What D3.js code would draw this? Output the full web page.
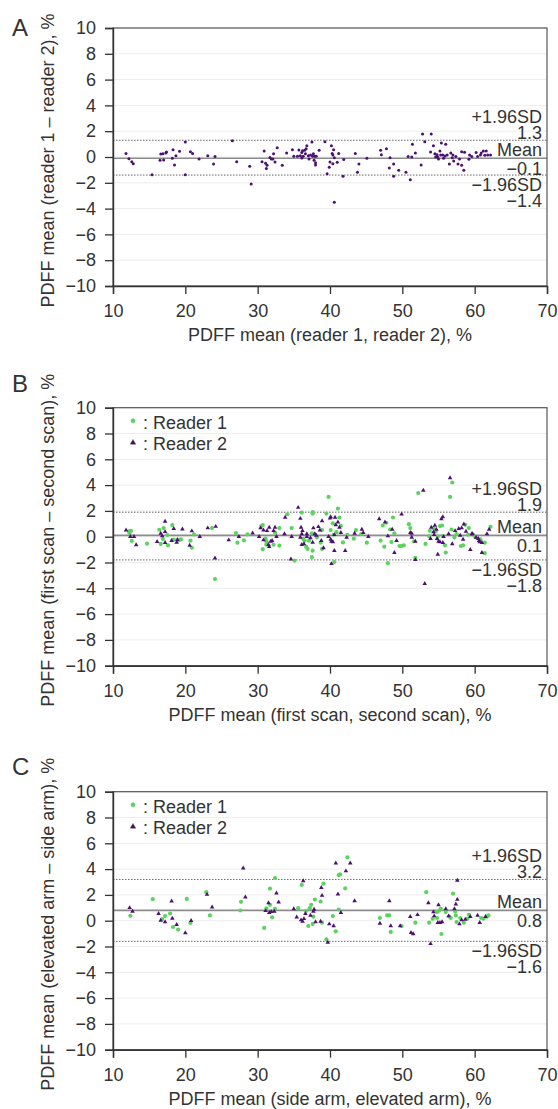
<!DOCTYPE html>
<html>
<head>
<meta charset="utf-8">
<script src="https://cdn.jsdelivr.net/npm/d3@7"></script>
<style>
  body { margin: 0; background: #fff; }
  text { font-family: "Liberation Sans", Arial, Helvetica, sans-serif; fill: #333; }
</style>
</head>
<body>
<div id="chart"></div>
<script>
// ticks
const xTicks = [10, 20, 30, 40, 50, 60, 70];
const yTicks = [-10, -8, -6, -4, -2, 0, 2, 4, 6, 8, 10];

// A: reader 1 vs reader 2 (mean, diff)
const dataA = [[11.8,0.28],[12.2,-0.13],[12.6,-0.36],[12.8,-0.52],[15.4,-1.37],[16.6,0.23],[16.5,-0.26],[17.0,-0.23],[16.9,0.26],[17.3,0.31],[17.4,0.39],[18.3,0.57],[18.2,-0.1],[18.5,-0.62],[18.7,0.1],[19.2,0.44],[20.0,1.16],[20.0,-1.37],[20.7,0.41],[21.0,0.28],[21.9,-0.15],[23.1,0.1],[23.9,-0.54],[24.1,0.03],[26.5,1.26],[27.1,-0.36],[28.9,-0.72],[29.1,-2.1],[30.6,-0.36],[30.9,0.46],[31.1,-0.49],[31.2,-0.9],[31.3,-0.64],[31.7,-0.03],[31.9,-0.15],[32.2,0.26],[32.1,-0.15],[32.4,-0.39],[32.7,0.72],[33.4,-0.64],[34.0,0.31],[34.8,0.57],[35.0,0.05],[35.5,0.05],[35.7,0.54],[35.9,0.1],[36.1,0.34],[36.2,0.49],[36.1,-0.08],[36.3,0.05],[36.5,0.52],[36.6,0.26],[36.7,0.64],[36.8,0.88],[37.0,0.1],[37.1,-0.15],[37.3,0.15],[37.5,1.16],[37.6,0.05],[37.7,0.26],[37.8,-0.26],[38.0,-0.44],[37.9,0.05],[38.1,0.05],[38.0,-0.62],[38.5,0.52],[39.3,1.19],[39.6,-1.3],[39.9,-0.8],[40.0,-0.39],[40.2,0.88],[40.3,0.28],[40.4,0.15],[40.5,0.57],[40.4,-0.52],[40.6,-0.05],[41.0,-0.41],[41.2,0.28],[40.6,-3.5],[41.8,-1.5],[41.9,-0.2],[43.5,0.28],[43.8,-1.19],[44.0,-0.54],[45.1,-0.1],[47.0,0.52],[47.1,0.18],[47.8,0.64],[48.3,-0.05],[48.2,-0.85],[48.8,-0.54],[48.8,-1.5],[49.5,-1.03],[50.5,-1.19],[51.1,-1.76],[50.8,0.03],[51.3,0],[51.8,0.31],[51.4,0.98],[52.6,-0.62],[52.8,1.78],[53.1,1.19],[54.0,1.78],[53.9,0.39],[54.3,0.88],[54.5,0.26],[54.6,0],[54.8,0.18],[54.9,0],[55.0,-0.15],[55.3,0.15],[55.4,1.08],[55.2,0.46],[55.6,0.15],[55.7,-0.1],[56.0,0.98],[55.9,0.08],[56.2,0.15],[56.5,-0.54],[56.7,0.31],[56.9,-0.05],[57.1,-0.31],[57.0,0.15],[57.4,0.03],[57.7,-0.54],[57.9,-0.15],[58.2,-0.64],[58.2,0.41],[58.5,-1.03],[58.6,0.36],[59.2,-0.18],[59.3,0.15],[59.6,0.03],[60.2,0.34],[60.4,0.03],[60.8,0.15],[60.9,0.31],[61.2,0.46],[61.4,0.13],[61.6,0.46],[61.8,0.15],[62.2,0.15]];

// B: first scan vs second scan
const dataB1 = [[12.2,0.41],[12.5,0.46],[12.3,0.28],[12.6,-0.33],[14.7,-0.54],[16.6,-0.56],[16.4,0.54],[17.0,0.67],[16.9,-0.18],[17.6,-0.67],[17.5,0.13],[18.2,0.9],[18.4,-0.23],[19.1,-0.28],[19.4,-0.21],[20.7,-0.31],[20.9,-0.85],[21.2,0.18],[23.7,0.67],[24.1,-3.28],[27.0,0.28],[27.2,-0.46],[28.1,-0.28],[28.6,0.18],[30.5,0.82],[30.7,0.9],[30.7,-0.97],[31.1,-0.15],[31.2,-0.36],[31.2,-0.62],[32.2,-0.62],[32.4,0.31],[33.0,0.67],[33.0,-0.69],[34.1,1.74],[35.1,-1.85],[34.7,0.67],[36.1,1.87],[36.3,-0.18],[36.7,-0.77],[36.9,-0.95],[36.5,-0.31],[37.6,1.9],[37.6,1.79],[37.5,0.26],[37.1,-0.31],[37.6,-1.08],[37.5,-1.59],[38.2,-0.05],[38.9,0.51],[38.7,-0.46],[38.9,-0.95],[39.5,1.79],[39.8,3.08],[40.1,0.51],[40.4,1.03],[40.5,0.15],[41.1,2.18],[41.3,1.49],[41.5,0.85],[40.9,0.36],[40.6,-1.97],[41.8,-0.44],[42.4,0.15],[43.3,-0.15],[43.6,0.51],[44.3,0.21],[45.1,-0.46],[47.0,-0.31],[47.3,0.87],[47.5,-0.77],[47.8,1.08],[48.0,-2.05],[48.3,0.56],[48.5,-0.41],[48.7,1.49],[48.9,0.26],[49.6,-0.72],[49.9,-0.72],[50.2,-0.67],[50.9,0.97],[51.1,0.67],[51.6,-0.36],[51.8,-1.64],[52.2,3.38],[53.2,-0.56],[53.7,0.05],[53.8,0.46],[54.3,0.67],[54.6,0.41],[54.9,0.0],[55.2,0.82],[55.5,0.87],[55.6,0.05],[55.9,-0.67],[56.0,-1.23],[56.9,4.2],[56.6,3.08],[56.8,0.56],[57.2,-0.05],[57.5,0.21],[58.1,-0.72],[58.4,-0.67],[58.7,0.92],[59.1,0.15],[59.2,0.67],[59.8,0.15],[60.1,-0.05],[60.8,-0.21],[61.4,-1.28],[61.4,-0.46],[62.2,0.77]];
const dataB2 = [[11.8,0.51],[12.4,0.0],[12.9,0.0],[13.2,-0.64],[16.1,-0.38],[16.6,0.26],[16.8,0.05],[17.2,1.18],[17.2,0.38],[17.2,-0.46],[18.4,0.62],[18.1,-0.31],[18.8,-0.44],[18.9,-0.23],[19.6,0.59],[20.6,-0.67],[20.9,0.44],[22.0,0.0],[23.1,0.67],[24.2,0.79],[24.1,-1.67],[26.0,-0.26],[27.4,0.0],[29.3,0.28],[30.4,0.67],[30.2,0.0],[30.8,0.51],[30.8,-0.26],[31.3,0.46],[31.6,0.72],[31.5,-0.62],[31.6,-0.77],[31.8,-0.36],[32.0,-0.31],[32.2,0.46],[32.4,0.72],[32.6,0.0],[33.7,0.21],[33.8,1.49],[34.6,-1.74],[34.7,0.0],[35.6,2.26],[35.9,1.41],[36.0,0.72],[36.1,0.21],[35.9,-0.05],[36.2,0.46],[36.4,-0.56],[36.1,-0.62],[36.8,0.0],[37.7,0.67],[36.8,0.21],[37.3,-0.1],[37.6,-0.44],[37.9,0.21],[38.1,0.1],[38.4,0.77],[38.6,0.51],[38.9,1.23],[38.8,-0.31],[39.1,-0.87],[40.0,1.44],[40.1,1.54],[40.7,1.49],[39.8,0.0],[40.1,-0.21],[40.2,-0.36],[40.4,-0.41],[40.6,0.15],[40.8,0.92],[41.1,1.13],[41.3,0.72],[41.5,0.31],[40.6,-1.08],[40.2,-2.1],[42.3,-0.05],[42.1,-1.08],[43.4,0.26],[44.4,0.56],[44.6,0.31],[45.3,0.0],[46.8,1.38],[47.6,1.13],[48.0,0.05],[48.6,0.56],[48.9,-1.23],[49.2,-0.31],[49.9,1.74],[51.1,0.31],[51.3,0.26],[51.8,-0.36],[51.3,-0.05],[51.8,-1.79],[52.9,3.59],[53.1,-3.64],[53.9,-0.15],[54.0,0.72],[54.3,0.36],[54.5,0.87],[54.7,0.56],[54.4,0.15],[54.8,-0.15],[55.0,-0.36],[55.2,-0.41],[54.9,-1.38],[55.4,1.38],[55.6,1.54],[55.6,-0.46],[55.7,0.0],[56.4,0.21],[56.6,4.56],[56.9,-0.56],[57.3,0.46],[57.8,0.62],[58.0,0.1],[58.2,0.67],[58.5,0.97],[58.8,0.41],[58.4,-0.21],[59.4,-1.0],[59.6,0.21],[59.7,0.21],[60.2,-0.05],[60.5,-0.15],[60.6,-0.31],[60.7,-0.41],[61.0,-0.46],[61.0,-1.23],[61.7,0.21],[62.0,0.56]];

// C: side arm vs elevated arm
const dataC1 = [[12.4,0.38],[15.5,1.67],[16.8,0.13],[17.2,0.36],[17.9,0.56],[18.3,-0.49],[19.0,-0.69],[20.2,1.69],[20.7,-0.18],[22.9,2.21],[23.4,0.41],[27.7,1.46],[27.6,0.79],[30.9,-0.56],[31.2,0.95],[31.7,1.23],[31.7,2.49],[32.4,3.31],[32.0,0.26],[32.4,0.92],[35.6,0.97],[36.7,0.77],[36.1,2.77],[37.0,-0.41],[37.2,0.97],[37.7,0.31],[37.4,1.23],[37.9,1.64],[37.6,-0.26],[38.9,-0.15],[38.7,1.49],[39.1,2.87],[39.5,-1.44],[40.8,-0.82],[40.4,0.36],[41.2,3.54],[41.4,3.59],[42.4,4.92],[42.1,2.51],[41.2,0.87],[46.9,0.21],[47.9,0.41],[48.2,0.41],[48.4,-0.87],[49.9,-0.41],[51.8,-0.15],[53.3,2.21],[53.7,-0.15],[54.2,0.15],[54.8,0.21],[54.8,0.67],[55.1,0.77],[55.3,0.92],[55.4,-1.03],[56.0,0.67],[56.5,0.31],[56.7,0.21],[57.0,2.1],[57.3,0.72],[57.4,0.41],[57.5,-0.1],[58.0,0.21],[58.5,-0.15],[59.0,0.15],[59.2,0.46],[60.9,0.21],[61.2,0.15],[61.9,0.41],[61.7,0.31]];
const dataC2 = [[12.3,1.0],[12.7,0.72],[16.3,0.54],[16.6,0.03],[17.2,-0.1],[18.1,1.51],[18.2,0.18],[18.8,-0.31],[20.0,-0.95],[20.8,0.0],[23.0,2.03],[23.7,1.05],[28.0,4.08],[28.3,1.82],[31.1,0.77],[31.5,1.38],[31.6,0.62],[31.9,0.69],[32.3,0.72],[32.6,2.13],[32.9,1.44],[35.0,0.92],[35.4,0.28],[36.0,0.05],[36.2,-0.05],[36.4,0.15],[36.3,3.08],[36.6,0.54],[37.3,0.41],[37.7,0.72],[37.8,0.87],[38.0,-0.1],[38.7,-0.05],[38.9,1.95],[38.8,2.56],[39.7,-1.69],[39.9,-0.26],[40.5,-0.41],[40.8,4.46],[42.2,3.85],[42.8,4.46],[41.1,2.05],[41.5,0.62],[43.4,1.54],[46.9,-0.21],[48.2,1.54],[48.4,-0.41],[49.7,-0.41],[51.1,0.31],[51.2,-0.92],[51.5,-1.03],[52.1,0.46],[53.6,1.38],[53.9,-1.79],[54.3,0.67],[54.4,0.36],[54.9,-0.15],[55.0,1.23],[55.2,-0.15],[55.5,-0.1],[56.0,0.92],[56.4,0.36],[57.2,0.92],[57.4,1.28],[57.6,3.13],[57.6,1.64],[57.9,-0.26],[58.2,0.05],[58.7,0.1],[59.4,0.31],[60.4,0.41],[60.7,-0.15],[61.5,0.31]];

// limits of agreement: [+1.96SD, mean, -1.96SD]
const limitsA = [1.3, -0.1, -1.4];
const limitsB = [1.9, 0.1, -1.8];
const limitsC = [3.2, 0.8, -1.6];

const limitLabels = ["+1.96SD", "Mean", "\u22121.96SD"];
const legendLabels = [": Reader 1", ": Reader 2"];

const green = "#5cd35e", purple = "#4b1170";
const W = 558, H = 1109;
const left = 113, right = 547, plotH = 258;
const fmt = v => d3.format(".1f")(v);

const svg = d3.select("#chart").append("svg")
  .attr("width", W).attr("height", H);

const panels = [
  { top: 28, letter: "A", letterY: 36, series: [{ data: dataA, kind: "dot" }], limits: limitsA,
    yTitle: "PDFF mean (reader 1 \u2013 reader 2), %", xTitle: "PDFF mean (reader 1, reader 2), %" },
  { top: 407.7, letter: "B", letterY: 392, legend: true,
    series: [{ data: dataB1, kind: "circle" }, { data: dataB2, kind: "tri" }], limits: limitsB,
    yTitle: "PDFF mean (first scan \u2013 second scan), %", xTitle: "PDFF mean (first scan, second scan), %" },
  { top: 791.7, letter: "C", letterY: 775, legend: true,
    series: [{ data: dataC1, kind: "circle" }, { data: dataC2, kind: "tri" }], limits: limitsC,
    yTitle: "PDFF mean (elevated arm \u2013 side arm), %", xTitle: "PDFF mean (side arm, elevated arm), %" }
];

const tri = d3.symbol().type(d3.symbolTriangle).size(9);

panels.forEach(p => {
  const x = d3.scaleLinear().domain([10, 70]).range([left, right]);
  const y = d3.scaleLinear().domain([-10, 10]).range([p.top + plotH, p.top]);
  const g = svg.append("g");

  // grid
  g.selectAll(".grid").data(yTicks).enter().append("line")
    .attr("x1", left).attr("x2", right)
    .attr("y1", d => y(d)).attr("y2", d => y(d))
    .attr("stroke", "#eeeeee").attr("stroke-width", 1);

  // limits of agreement
  p.limits.forEach((v, i) => {
    g.append("line")
      .attr("x1", left).attr("x2", right)
      .attr("y1", y(v)).attr("y2", y(v))
      .attr("stroke", i === 1 ? "#8c8c8c" : "#555")
      .attr("stroke-width", i === 1 ? 1.6 : 0.9)
      .attr("stroke-dasharray", i === 1 ? null : "1.5,1.5");
  });

  // points
  p.series.forEach(s => {
    if (s.kind === "tri") {
      g.selectAll(null).data(s.data).enter().append("path")
        .attr("d", tri)
        .attr("transform", d => `translate(${x(d[0])},${y(d[1])})`)
        .attr("fill", purple);
    } else {
      g.selectAll(null).data(s.data).enter().append("circle")
        .attr("cx", d => x(d[0])).attr("cy", d => y(d[1]))
        .attr("r", s.kind === "dot" ? 1.5 : 2.1)
        .attr("fill", s.kind === "dot" ? purple : green);
    }
  });

  // frame
  g.append("rect")
    .attr("x", left).attr("y", p.top)
    .attr("width", right - left).attr("height", plotH)
    .attr("fill", "none").attr("stroke", "#555").attr("stroke-width", 1.2);

  // axes
  const ay = g.append("g").attr("transform", `translate(${left},0)`)
    .call(d3.axisLeft(y).tickValues(yTicks).tickSize(8).tickPadding(9).tickFormat(d3.format("d")));
  const ax = g.append("g").attr("transform", `translate(0,${p.top + plotH})`)
    .call(d3.axisBottom(x).tickValues(xTicks).tickSize(8).tickPadding(10.5).tickFormat(d3.format("d")));
  [ax, ay].forEach(a => {
    a.select(".domain").attr("stroke", "#333").attr("stroke-width", 1.4);
    a.selectAll(".tick line").attr("stroke", "#333").attr("stroke-width", 1.3);
    a.selectAll(".tick text").attr("font-size", 18).attr("fill", "#333")
      .style("font-family", "'Liberation Sans', Arial, sans-serif");
  });

  // right labels
  const lx = right - 5;
  const lab = (txt, yy) => g.append("text").attr("x", lx).attr("y", yy)
    .attr("text-anchor", "end").attr("font-size", 18).text(txt);
  lab(limitLabels[0], y(p.limits[0]) - 17);
  lab(fmt(p.limits[0]), y(p.limits[0]) - 1.5);
  lab(limitLabels[1], y(p.limits[1]) - 2.5);
  lab(fmt(p.limits[1]), y(p.limits[1]) + 16.5);
  lab(limitLabels[2], y(p.limits[2]) + 16);
  lab(fmt(p.limits[2]), y(p.limits[2]) + 32);

  // legend
  if (p.legend) {
    const ly = p.top + 13;
    g.append("circle").attr("cx", 133).attr("cy", ly).attr("r", 2.3).attr("fill", green);
    g.append("path").attr("d", d3.symbol().type(d3.symbolTriangle).size(14))
      .attr("transform", `translate(133,${ly + 22})`)
      .attr("fill", "#4e0c36").attr("stroke", "#4a5a9a").attr("stroke-width", 0.4);
    legendLabels.forEach((t, i) => {
      g.append("text").attr("x", 143).attr("y", ly + 8.5 + i * 21)
        .attr("font-size", 18).text(t);
    });
  }

  // titles
  g.append("text").attr("x", (left + right) / 2).attr("y", p.top + plotH + 55)
    .attr("text-anchor", "middle").attr("font-size", 18).text(p.xTitle);
  g.append("text")
    .attr("transform", `translate(54,${p.top + plotH / 2 + 3.5}) rotate(-90)`)
    .attr("text-anchor", "middle").attr("font-size", 18).text(p.yTitle);
  g.append("text").attr("x", 12).attr("y", p.letterY)
    .attr("font-size", 24).text(p.letter);
});
</script>
</body>
</html>
